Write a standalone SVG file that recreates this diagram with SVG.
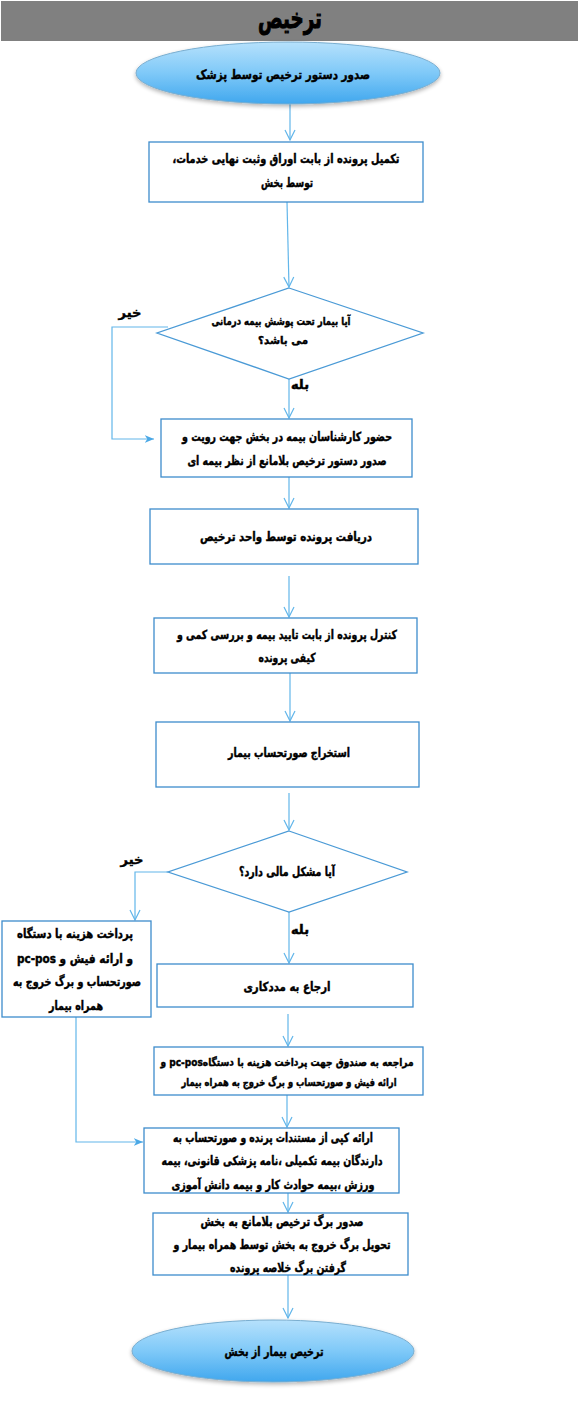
<svg xmlns="http://www.w3.org/2000/svg" width="580" height="1427" viewBox="0 0 580 1427">
<style>
.box{fill:#ffffff;stroke:#3d8ccc;stroke-width:1.3}
.dia{fill:#ffffff;stroke:#4a9ad6;stroke-width:1.3}
.ell{fill:url(#eg);stroke:#7aaed0;stroke-width:1}
.con{fill:none;stroke:#62b6ea;stroke-width:1.2}
text{font-family:"DejaVu Sans","Noto Sans",sans-serif;font-weight:bold;fill:#000;stroke:#000;stroke-width:0.45;text-anchor:middle;dominant-baseline:middle;direction:rtl;unicode-bidi:embed}
.t{font-size:12.5px}
.s{font-size:11px}
.lbl{font-size:13px}
.ltr{direction:ltr}
</style>
<defs>
<linearGradient id="eg" x1="0" y1="0" x2="0" y2="1">
<stop offset="0" stop-color="#b6e1fc"/>
<stop offset="0.5" stop-color="#7fc9f8"/>
<stop offset="1" stop-color="#40a7ee"/>
</linearGradient>
<filter id="sh" x="-10%" y="-20%" width="120%" height="150%">
<feGaussianBlur in="SourceAlpha" stdDeviation="2"/>
<feOffset dx="0" dy="2" result="b"/>
<feComponentTransfer><feFuncA type="linear" slope="0.3"/></feComponentTransfer>
<feMerge><feMergeNode/><feMergeNode in="SourceGraphic"/></feMerge>
</filter>
<marker id="ov" viewBox="0 0 12 12" refX="11" refY="6" markerWidth="12" markerHeight="12" markerUnits="userSpaceOnUse" orient="auto">
<path d="M1,1 L11,6 L1,11" fill="none" stroke="#62b6ea" stroke-width="1.2"/>
</marker>
<marker id="fv" viewBox="0 0 12 12" refX="11" refY="6" markerWidth="10" markerHeight="10" markerUnits="userSpaceOnUse" orient="auto">
<path d="M0,1.5 L11,6 L0,10.5 L3,6 Z" fill="#4aa8e6"/>
</marker>
</defs>
<g id="header">
<rect x="1" y="1" width="577" height="40" fill="#808080"/>
<text x="290" y="20" style="font-size:28px;stroke-width:1" textLength="64" lengthAdjust="spacingAndGlyphs">ترخیص</text>
</g>
<g id="connectors">
<line class="con" x1="290" y1="104" x2="290" y2="140" marker-end="url(#ov)"/>
<line class="con" x1="287" y1="202" x2="289" y2="287" marker-end="url(#ov)"/>
<polyline class="con" points="168,327 112,327 112,439 154,439" marker-end="url(#fv)"/>
<line class="con" x1="289" y1="379" x2="289" y2="418" marker-end="url(#ov)"/>
<line class="con" x1="289" y1="477" x2="289" y2="508" marker-end="url(#ov)"/>
<line class="con" x1="289" y1="576" x2="289" y2="617" marker-end="url(#ov)"/>
<line class="con" x1="290" y1="673" x2="290" y2="721" marker-end="url(#ov)"/>
<line class="con" x1="289" y1="793" x2="289" y2="830" marker-end="url(#ov)"/>
<polyline class="con" points="168,872 135,872 135,920" marker-end="url(#ov)"/>
<line class="con" x1="289" y1="912" x2="289" y2="963" marker-end="url(#ov)"/>
<line class="con" x1="288" y1="1014" x2="288" y2="1046" marker-end="url(#ov)"/>
<polyline class="con" points="76,1017 76,1142 143,1142" marker-end="url(#fv)"/>
<line class="con" x1="287" y1="1095" x2="287" y2="1127" marker-end="url(#ov)"/>
<line class="con" x1="288" y1="1193" x2="288" y2="1212" marker-end="url(#ov)"/>
<line class="con" x1="288" y1="1275" x2="288" y2="1318" marker-end="url(#ov)"/>
</g>
<g id="start">
<ellipse class="ell" cx="288" cy="73" rx="152" ry="31" filter="url(#sh)"/>
<text class="lbl" x="283" y="75" textLength="174" lengthAdjust="spacingAndGlyphs">صدور دستور ترخیص توسط پزشک</text>
</g>
<g id="box1">
<rect class="box" x="149" y="142" width="274" height="60"/>
<text class="t" x="286" y="159" textLength="227" lengthAdjust="spacingAndGlyphs">تکمیل پرونده از بابت اوراق  وثبت نهایی خدمات،</text>
<text class="t" x="287" y="183" textLength="52" lengthAdjust="spacingAndGlyphs">توسط بخش</text>
</g>
<g id="decision1">
<polygon class="dia" points="289,288 423,333 289,379 157,333"/>
<text class="s" x="281" y="322" textLength="139" lengthAdjust="spacingAndGlyphs">آیا بیمار تحت پوشش بیمه درمانی</text>
<text class="s" x="283" y="341" textLength="50" lengthAdjust="spacingAndGlyphs">می باشد؟</text>
</g>
<text id="no1" class="lbl" x="130" y="313">خیر</text>
<text id="yes1" class="lbl" x="300" y="385">بله</text>
<g id="box2">
<rect class="box" x="161" y="419" width="251" height="58"/>
<text class="t" x="287" y="437" textLength="210" lengthAdjust="spacingAndGlyphs">حضور کارشناسان بیمه در بخش جهت رویت و</text>
<text class="t" x="287" y="461" textLength="199" lengthAdjust="spacingAndGlyphs">صدور دستور ترخیص بلامانع از نظر بیمه ای</text>
</g>
<g id="box3">
<rect class="box" x="150" y="509" width="268" height="55"/>
<text class="t" x="286" y="537" textLength="172" lengthAdjust="spacingAndGlyphs">دریافت پرونده توسط  واحد ترخیص</text>
</g>
<g id="box4">
<rect class="box" x="154" y="618" width="263" height="55"/>
<text class="t" x="287" y="635" textLength="220" lengthAdjust="spacingAndGlyphs">کنترل پرونده از بابت تایید بیمه و بررسی کمی و</text>
<text class="t" x="287" y="658" textLength="57" lengthAdjust="spacingAndGlyphs">کیفی پرونده</text>
</g>
<g id="box5">
<rect class="box" x="156" y="722" width="263" height="65"/>
<text class="t" x="289" y="753" textLength="122" lengthAdjust="spacingAndGlyphs">استخراج صورتحساب بیمار</text>
</g>
<g id="decision2">
<polygon class="dia" points="289,831 407,872 289,912 168,872"/>
<text class="t" x="287" y="872" textLength="96" lengthAdjust="spacingAndGlyphs">آیا مشکل مالی دارد؟</text>
</g>
<text id="no2" class="lbl" x="132" y="860">خیر</text>
<text id="yes2" class="lbl" x="300" y="930">بله</text>
<g id="box6">
<rect class="box" x="2" y="921" width="149" height="96"/>
<text class="t" x="75" y="934" textLength="116" lengthAdjust="spacingAndGlyphs">پرداخت هزینه با دستگاه</text>
<text class="t ltr" x="75" y="959" textLength="116" lengthAdjust="spacingAndGlyphs">pc-pos  و ارائه فیش و</text>
<text class="t" x="77" y="982" textLength="128" lengthAdjust="spacingAndGlyphs">صورتحساب و برگ خروج به</text>
<text class="t" x="76" y="1006" textLength="54" lengthAdjust="spacingAndGlyphs">همراه بیمار</text>
</g>
<g id="box7">
<rect class="box" x="157" y="964" width="256" height="43"/>
<text class="t" x="287" y="987" textLength="87" lengthAdjust="spacingAndGlyphs">ارجاع به مددکاری</text>
</g>
<g id="box8">
<rect class="box" x="154" y="1047" width="269" height="48"/>
<text class="s" x="287" y="1063" textLength="253" lengthAdjust="spacingAndGlyphs">مراجعه به صندوق جهت پرداخت هزینه با دستگاهpc-pos و</text>
<text class="s" x="289" y="1083" textLength="215" lengthAdjust="spacingAndGlyphs">ارائه فیش و صورتحساب و برگ خروج به همراه بیمار</text>
</g>
<g id="box9">
<rect class="box" x="144" y="1128" width="255" height="65"/>
<text class="t" x="273" y="1138" textLength="200" lengthAdjust="spacingAndGlyphs">ارائه کپی از مستندات پرنده و صورتحساب به</text>
<text class="t" x="272" y="1161" textLength="221" lengthAdjust="spacingAndGlyphs">دارندگان بیمه تکمیلی ،نامه پزشکی قانونی، بیمه</text>
<text class="t" x="273" y="1185" textLength="203" lengthAdjust="spacingAndGlyphs">ورزش ،بیمه حوادث کار و بیمه دانش آموزی</text>
</g>
<g id="box10">
<rect class="box" x="153" y="1213" width="255" height="62"/>
<text class="t" x="282" y="1222" textLength="163" lengthAdjust="spacingAndGlyphs">صدور برگ ترخیص بلامانع به بخش</text>
<text class="t" x="282" y="1245" textLength="217" lengthAdjust="spacingAndGlyphs">تحویل برگ خروج به بخش توسط همراه بیمار و</text>
<text class="t" x="288" y="1268" textLength="116" lengthAdjust="spacingAndGlyphs">گرفتن برگ خلاصه پرونده</text>
</g>
<g id="end">
<ellipse class="ell" cx="273" cy="1351" rx="141" ry="31" filter="url(#sh)"/>
<text class="lbl" x="274" y="1352" textLength="99" lengthAdjust="spacingAndGlyphs">ترخیص بیمار از بخش</text>
</g>
</svg>
